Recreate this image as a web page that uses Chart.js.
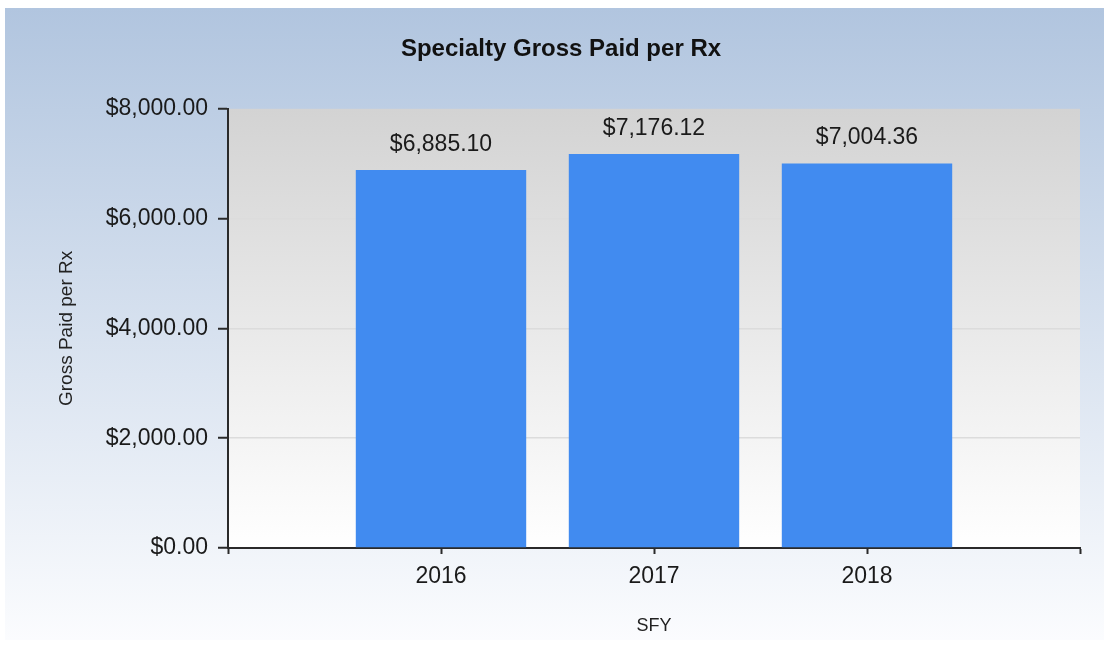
<!DOCTYPE html>
<html>
<head>
<meta charset="utf-8">
<script src="https://cdn.jsdelivr.net/npm/chart.js@4/dist/chart.umd.min.js"></script>
<style>
  html, body { margin: 0; padding: 0; background: #fff; }
  #wrap { width: 1109px; height: 645px; }
</style>
</head>
<body>
<div id="wrap"><canvas id="myChart" width="1109" height="645"></canvas></div>
<script>
// values
var years = ['2016', '2017', '2018'];
var grossPaid = [6885.10, 7176.12, 7004.36];
var yTicks = [0, 2000, 4000, 6000, 8000];

// empty slots at both ends so the bars sit one step in from each edge
var labels = [''].concat(years, ['']);
var values = [null].concat(grossPaid, [null]);

var FONT = '"Liberation Sans", Arial, sans-serif';

function money(v) {
    return '$' + v.toLocaleString('en-US', { minimumFractionDigits: 2, maximumFractionDigits: 2 });
}

var backgrounds = {
    id: 'backgrounds',
    beforeDraw(chart) {
        const ctx = chart.ctx;
        const a = chart.chartArea;
        ctx.save();
        let g = ctx.createLinearGradient(0, 8, 0, 640);
        g.addColorStop(0, '#b1c5df');
        g.addColorStop(1, '#fbfcfe');
        ctx.fillStyle = g;
        ctx.fillRect(5, 8, 1099, 632);
        g = ctx.createLinearGradient(0, a.top, 0, a.bottom);
        g.addColorStop(0, '#d3d3d3');
        g.addColorStop(1, '#ffffff');
        ctx.fillStyle = g;
        ctx.fillRect(a.left, a.top, a.right - a.left, a.bottom - a.top);
        ctx.restore();
    }
};

var valueLabels = {
    id: 'valueLabels',
    afterDatasetsDraw(chart) {
        const ctx = chart.ctx;
        const meta = chart.getDatasetMeta(0);
        ctx.save();
        ctx.font = '23px ' + FONT;
        ctx.fillStyle = '#1a1a1a';
        ctx.textAlign = 'center';
        ctx.textBaseline = 'bottom';
        meta.data.forEach((bar, i) => {
            if (values[i] == null) return;
            ctx.fillText(money(values[i]), bar.x, bar.y - 14);
        });
        ctx.restore();
    }
};

const ctx = document.getElementById('myChart').getContext('2d');
const myChart = new Chart(ctx, {
    type: 'bar',
    data: {
        labels: labels,
        datasets: [{
            label: 'Gross Paid per Rx',
            data: values,
            backgroundColor: '#418bf0',
            borderWidth: 0,
            barPercentage: 1,
            categoryPercentage: 0.8
        }]
    },
    options: {
        responsive: false,
        animation: false,
        layout: { padding: { left: 13, top: 8, right: 0, bottom: 5 } },
        plugins: {
            legend: { display: false },
            tooltip: { enabled: false },
            title: {
                display: true,
                text: 'Specialty Gross Paid per Rx',
                color: '#111',
                font: { family: FONT, size: 24, weight: 'bold' },
                padding: { top: 27, bottom: 45 }
            }
        },
        scales: {
            x: {
                offset: false,
                afterFit(scale) { scale.height = 92; },
                border: { display: true, color: '#2a2a2a', width: 2 },
                grid: {
                    offset: false,
                    drawOnChartArea: false,
                    drawTicks: true,
                    tickLength: 6,
                    tickColor: '#2a2a2a',
                    tickWidth: 2
                },
                ticks: {
                    color: '#1a1a1a',
                    padding: 9,
                    maxRotation: 0,
                    font: { family: FONT, size: 23 }
                },
                title: {
                    display: true,
                    text: 'SFY',
                    color: '#222',
                    font: { family: FONT, size: 18 },
                    padding: { top: 0, bottom: 3 }
                }
            },
            y: {
                min: 0,
                max: 8000,
                afterFit(scale) { scale.width = 215; },
                afterBuildTicks(scale) { scale.ticks = yTicks.map(v => ({ value: v })); },
                border: { display: true, color: '#2a2a2a', width: 2 },
                grid: {
                    color: ctx => (ctx.tick && (ctx.tick.value === 0 || ctx.tick.value === 8000)) ? 'rgba(0,0,0,0)' : '#dcdcdc',
                    lineWidth: 1.5,
                    drawTicks: true,
                    tickLength: 10,
                    tickColor: '#2a2a2a',
                    tickWidth: 2
                },
                ticks: {
                    color: '#1a1a1a',
                    padding: 10,
                    font: { family: FONT, size: 23 },
                    callback: v => money(v)
                },
                title: {
                    display: true,
                    text: 'Gross Paid per Rx',
                    color: '#222',
                    font: { family: FONT, size: 19 },
                    padding: { top: 42, bottom: 0 }
                }
            },
            // empty right-hand strip so the plot ends where the reference does
            y2: {
                position: 'right',
                display: true,
                afterFit(scale) { scale.width = 29; },
                border: { display: false },
                grid: { display: false },
                ticks: { display: false }
            }
        }
    },
    plugins: [backgrounds, valueLabels]
});
</script>
</body>
</html>
